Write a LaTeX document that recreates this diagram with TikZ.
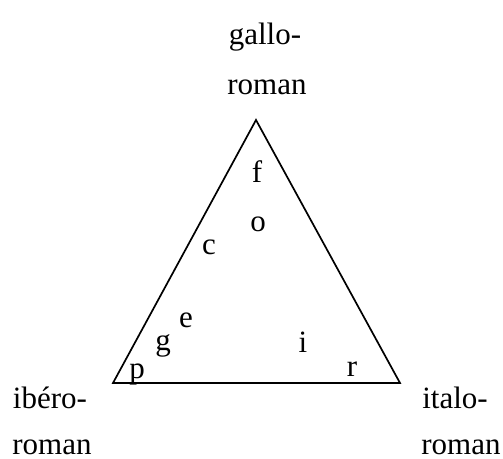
\documentclass[tikz,border=0pt]{standalone}
\usepackage{fontspec}
\setmainfont{Liberation Serif}
\begin{document}
\begin{tikzpicture}[x=1pt,y=1pt,
  lbl/.style={anchor=base,inner sep=0pt,font=\fontsize{31}{36}\selectfont},
  tri/.style={line width=1.7pt,line join=miter}]
\useasboundingbox (0,0) rectangle (503,458);
\coordinate (A) at (256,338);
\coordinate (B) at (113,75);
\coordinate (C) at (400,75);
\draw[tri] (A) -- (B) -- (C) -- cycle;
\node[lbl] (gallo) at (265,413) {gallo-};
\node[lbl] (roman1) at (267,363) {roman};
\node[lbl] (ibero) at (50,50) {ibéro-};
\node[lbl] (roman2) at (52,4) {roman};
\node[lbl] (italo) at (455,50) {italo-};
\node[lbl] (roman3) at (461,4) {roman};
\node[lbl] (f) at (257,275) {f};
\node[lbl] (o) at (258,226) {o};
\node[lbl] (c) at (209,203) {c};
\node[lbl] (e) at (186,131) {e};
\node[lbl] (g) at (163,108) {g};
\node[lbl] (p) at (137,80) {p};
\node[lbl] (i) at (303,106) {i};
\node[lbl] (r) at (352,82) {r};
\end{tikzpicture}
\end{document}
